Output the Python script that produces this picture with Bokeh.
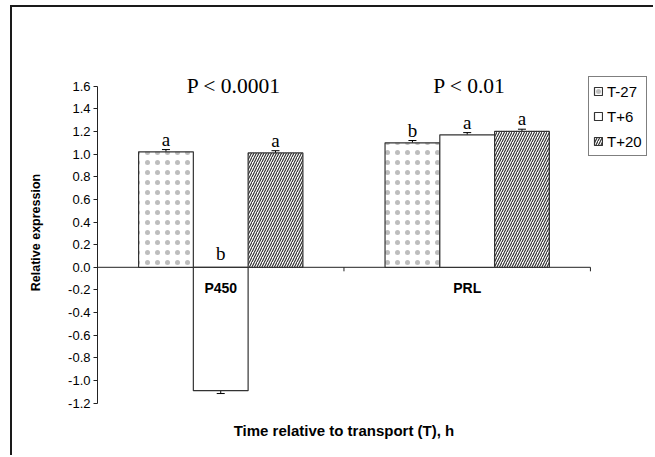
from bokeh.plotting import figure
from bokeh.models import (ColumnDataSource, Range1d, FixedTicker, PrintfTickFormatter,
                          Whisker, TeeHead, Legend, LegendItem)
from bokeh.core.properties import value
from bokeh.embed import file_html
from bokeh.resources import INLINE

# Relative expression per gene and sampling time
genes = ["P450", "PRL"]
series = ["T-27", "T+6", "T+20"]
expr_t_minus27 = [1.02, 1.10]
expr_t_plus6 = [-1.09, 1.17]
expr_t_plus20 = [1.01, 1.20]
sem_t_minus27 = [0.02, 0.02]
sem_t_plus6 = [0.025, 0.02]
sem_t_plus20 = [0.02, 0.02]
letters_t_minus27 = ["a", "b"]
letters_t_plus6 = ["b", "a"]
letters_t_plus20 = ["a", "a"]
p_values = ["P < 0.0001", "P < 0.01"]
y_ticks = [-1.2, -1.0, -0.8, -0.6, -0.4, -0.2, 0.0, 0.2, 0.4, 0.6, 0.8, 1.0, 1.2, 1.4, 1.6]

values = [expr_t_minus27, expr_t_plus6, expr_t_plus20]
errors = [sem_t_minus27, sem_t_plus6, sem_t_plus20]
letters = [letters_t_minus27, letters_t_plus6, letters_t_plus20]

group_fraction = 2 / 3
bar_w = group_fraction / len(series)

styles = [
    dict(hatch_pattern="dot", hatch_scale=10, hatch_color="#333333", hatch_alpha=0.32),
    dict(),
    dict(hatch_pattern="right_diagonal_line", hatch_scale=5, hatch_weight=1.1, hatch_color="#2a2a2a"),
]

SANS = "Liberation Sans"
SERIF = "Liberation Serif"

p = figure(width=643, height=450, output_backend="svg", toolbar_location=None,
           x_range=Range1d(0, 2.264), y_range=Range1d(-1.680, 2.295),
           x_axis_location=None, min_border_left=85, min_border_top=0,
           min_border_right=0, min_border_bottom=0)
p.margin = (5, 0, 0, 10)
p.styles = {"border-left": "2px solid #1a1a1a", "border-top": "2px solid #1a1a1a"}
p.outline_line_color = None
p.xgrid.visible = False
p.ygrid.visible = False
p.background_fill_color = "white"
p.border_fill_color = "white"

# y axis
yax = p.yaxis[0]
yax.ticker = FixedTicker(ticks=y_ticks)
yax.bounds = (y_ticks[0], y_ticks[-1])
yax.formatter = PrintfTickFormatter(format="%.1f")
yax.minor_tick_line_color = None
yax.major_tick_out = 4
yax.major_tick_in = 0
yax.major_label_standoff = 3
yax.axis_line_color = "#222222"
yax.major_tick_line_color = "#222222"
yax.major_label_text_font = SANS
yax.major_label_text_font_size = "13px"
yax.major_label_text_color = "black"
yax.axis_label = "Relative expression"
yax.axis_label_text_font = SANS
yax.axis_label_text_font_size = "12.5px"
yax.axis_label_text_font_style = "bold"
yax.axis_label_text_color = "black"
yax.axis_label_standoff = 22

# zero line across the genes, with ticks at the gene boundaries
tick_len = 4 / 113.2
boundaries = list(range(len(genes) + 1))
p.segment(x0=[0], x1=[len(genes)], y0=[0], y1=[0], line_color="#222222", line_width=1)
p.segment(x0=boundaries[1:], x1=boundaries[1:], y0=[0] * len(genes),
          y1=[-tick_len] * len(genes), line_color="#222222", line_width=1)

legend_items = []
for j, name in enumerate(series):
    xs = [i + 0.5 + (j - 1) * bar_w for i in range(len(genes))]
    vals = values[j]
    errs = errors[j]
    src = ColumnDataSource(dict(
        x=xs, top=vals, upper=[v + e for v, e in zip(vals, errs)],
        lower=[v - e for v, e in zip(vals, errs)],
        label_y=[max(v, 0) + e for v, e in zip(vals, errs)],
        letter=letters[j]))
    r = p.vbar(x="x", top="top", bottom=0, width=bar_w, source=src,
               fill_color="white", line_color="#333333", line_width=1.2, **styles[j])
    legend_items.append(LegendItem(label=name, renderers=[r]))
    p.add_layout(Whisker(base="x", upper="upper", lower="lower", source=src,
                         line_color="black", line_width=1,
                         upper_head=TeeHead(size=8, line_color="black", line_width=1),
                         lower_head=TeeHead(size=8, line_color="black", line_width=1)))
    p.text(x="x", y="label_y", text="letter", source=src, text_font=value(SERIF),
           text_font_size="19px", text_align="center", text_baseline="bottom",
           text_color="black")

centers = [i + 0.5 for i in range(len(genes))]

# gene names below the zero line
p.text(x=centers, y=[0] * len(genes), text=genes, y_offset=21,
       text_font=value(SANS), text_font_size="14px", text_font_style="bold",
       text_align="center", text_baseline="middle", text_color="black")

# significance per gene
p.text(x=centers, y=[y_ticks[-1]] * len(genes), text=p_values, x_offset=-34,
       text_font=value(SERIF), text_font_size="21.5px", text_align="left",
       text_baseline="alphabetic", text_color="black")

# x axis title
p.text(x=[len(genes) / 2], y=[y_ticks[0]], y_offset=27,
       text=["Time relative to transport (T), h"], text_font=value(SANS),
       text_font_size="15px", text_font_style="bold", text_align="center",
       text_baseline="middle", text_color="black")

legend = Legend(items=legend_items, location=(491, 301), orientation="vertical",
                border_line_color="black", border_line_width=1, padding=4,
                spacing=5, label_standoff=4, glyph_width=10, glyph_height=10,
                label_height=20, label_text_font=SANS, label_text_font_size="15px",
                label_text_color="black", background_fill_alpha=1, margin=0)
p.add_layout(legend)

open("out.html", "w").write(file_html(p, INLINE))
